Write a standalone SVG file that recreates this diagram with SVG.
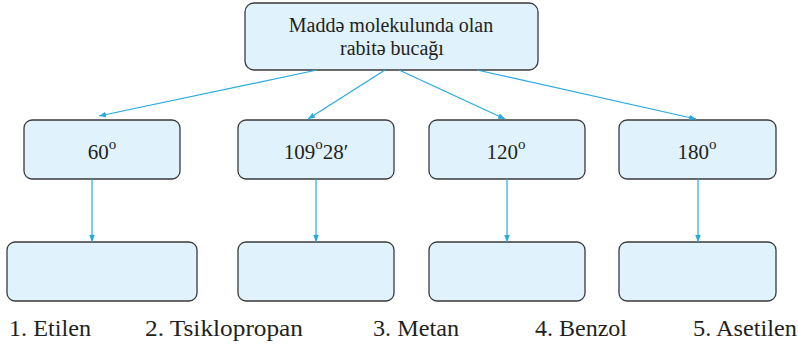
<svg xmlns="http://www.w3.org/2000/svg" width="798" height="345" viewBox="0 0 798 345">
  <style>
    .box { fill: #e0f2fb; stroke: #3a3a3a; stroke-width: 1.3; }
    .t { font-family: "Liberation Serif", "Times New Roman", serif; fill: #231f20; }
    .head { font-size: 20px; text-anchor: middle; }
    .val { font-size: 21px; text-anchor: middle; }
    .sup { font-size: 15px; }
    .lbl { font-size: 23px; }
    .link { stroke: #27aae1; stroke-width: 1.2; fill: none; marker-end: url(#arr); }
  </style>
  <defs>
    <marker id="arr" viewBox="0 0 10 10" refX="10" refY="5" markerWidth="7" markerHeight="7" markerUnits="userSpaceOnUse" orient="auto">
      <path d="M0,1 L10,5 L0,9 Z" fill="#27aae1"/>
    </marker>
  </defs>

  <!-- root -->
  <g id="root">
    <rect class="box" x="245" y="3" width="293" height="67" rx="9"/>
    <text class="t head" x="391" y="32">Maddə molekulunda olan</text>
    <text class="t head" x="392" y="55">rabitə bucağı</text>
  </g>

  <!-- angle values -->
  <g id="a60">
    <rect class="box" x="24" y="120" width="156" height="59" rx="8"/>
    <text class="t val" x="102" y="159">60<tspan class="sup" dy="-10">o</tspan></text>
  </g>
  <g id="a109">
    <rect class="box" x="238" y="120" width="156" height="59" rx="8"/>
    <text class="t val" x="316" y="159">109<tspan class="sup" dy="-10">o</tspan><tspan dy="10">28′</tspan></text>
  </g>
  <g id="a120">
    <rect class="box" x="429" y="120" width="156" height="59" rx="8"/>
    <text class="t val" x="506" y="159">120<tspan class="sup" dy="-10">o</tspan></text>
  </g>
  <g id="a180">
    <rect class="box" x="619" y="120" width="157" height="59" rx="8"/>
    <text class="t val" x="697" y="159">180<tspan class="sup" dy="-10">o</tspan></text>
  </g>

  <!-- empty answer boxes -->
  <g id="ans1"><rect class="box" x="7" y="242" width="190" height="59" rx="8"/></g>
  <g id="ans2"><rect class="box" x="238" y="242" width="156" height="59" rx="8"/></g>
  <g id="ans3"><rect class="box" x="429" y="242" width="156" height="59" rx="8"/></g>
  <g id="ans4"><rect class="box" x="619" y="242" width="157" height="59" rx="8"/></g>

  <!-- connectors -->
  <g id="links">
    <line class="link" x1="317" y1="70" x2="99" y2="116"/>
    <line class="link" x1="385" y1="70" x2="308" y2="119"/>
    <line class="link" x1="399" y1="70" x2="505" y2="119"/>
    <line class="link" x1="477" y1="70" x2="696" y2="119"/>
    <line class="link" x1="92" y1="179" x2="92" y2="242"/>
    <line class="link" x1="316" y1="179" x2="316" y2="242"/>
    <line class="link" x1="507" y1="179" x2="507" y2="242"/>
    <line class="link" x1="698" y1="179" x2="698" y2="242"/>
  </g>

  <!-- compound names -->
  <g id="names">
    <text class="t lbl" x="9" y="336" textLength="82" lengthAdjust="spacingAndGlyphs">1. Etilen</text>
    <text class="t lbl" x="145" y="336" textLength="158" lengthAdjust="spacingAndGlyphs">2. Tsiklopropan</text>
    <text class="t lbl" x="373" y="336" textLength="86" lengthAdjust="spacingAndGlyphs">3. Metan</text>
    <text class="t lbl" x="535" y="336" textLength="92" lengthAdjust="spacingAndGlyphs">4. Benzol</text>
    <text class="t lbl" x="693" y="336" textLength="104" lengthAdjust="spacingAndGlyphs">5. Asetilen</text>
  </g>
</svg>
